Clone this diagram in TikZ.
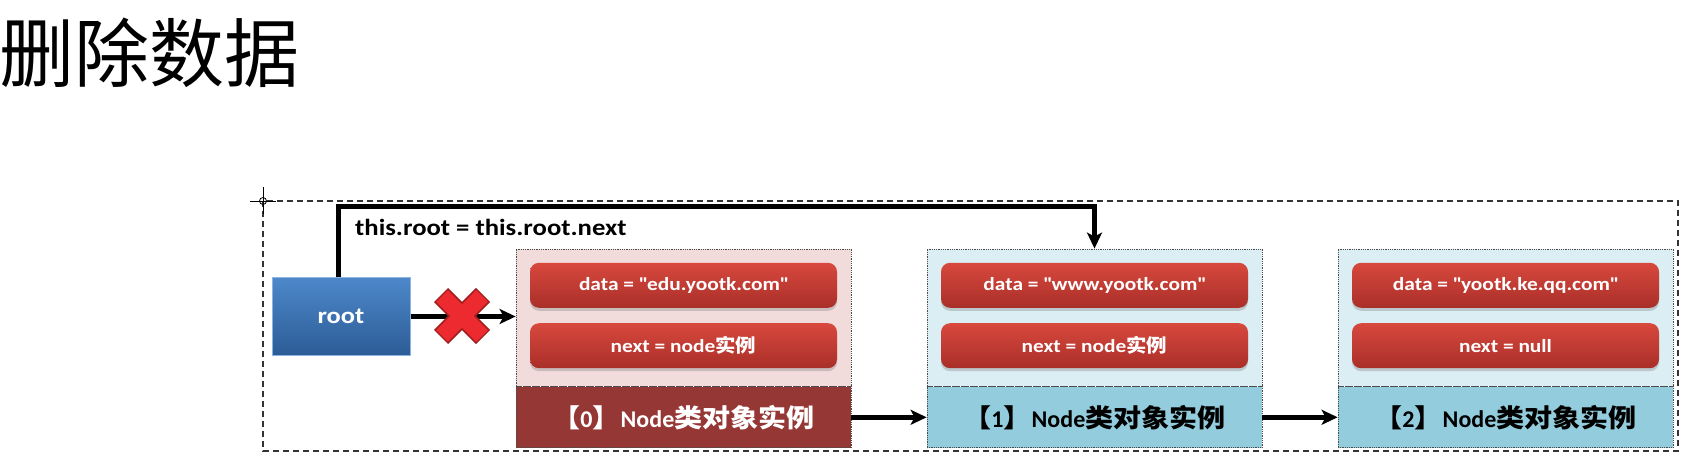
\documentclass[tikz,border=0pt]{standalone}
\usepackage{fontspec}
\setmainfont{Carlito}[FakeStretch=1.15]
\newfontfamily\latplain{Carlito}
\newfontfamily\cjk{Noto Sans CJK SC}[FakeStretch=1.1]
\newfontfamily\titlefont{Noto Sans CJK SC}
\usetikzlibrary{positioning,arrows.meta,shadows}

\definecolor{rootTop}{HTML}{4D88CA}
\definecolor{rootBot}{HTML}{2C5C96}
\definecolor{pillTop}{HTML}{D8483D}
\definecolor{pillBot}{HTML}{A92F29}
\definecolor{pinkBg}{HTML}{F2DCDB}
\definecolor{darkRed}{HTML}{953735}
\definecolor{iceBg}{HTML}{DBEEF4}
\definecolor{aquaBg}{HTML}{93CDDD}
\definecolor{crossRed}{HTML}{EC2A30}
\definecolor{crossEdge}{HTML}{A31E1E}

\newcommand{\zh}[1]{{\cjk #1}}
\newcommand{\dq}{\textquotedbl}
% caption of one object box
\newcommand{\objcap}[1]{{\cjk 【}{\latplain\fontsize{24}{28}\selectfont #1}{\cjk 】}%
	{\latplain\fontsize{24}{28}\selectfont Node}{\cjk 类对象实例}}

\begin{document}
\begin{tikzpicture}[
	x=1pt,y=-1pt,
	rootbox/.style={
		top color=rootTop,
		bottom color=rootBot,
		draw={rgb,255:red,140;green,180;blue,225},
		line width=1pt,
		minimum width=138pt,
		minimum height=77pt,
		text=white,
		font=\bfseries\fontsize{23}{28}\selectfont
	},
	upper/.style={
		draw=black!70,
		densely dotted,
		line width=0.8pt,
		minimum width=335pt,
		minimum height=137pt,
		inner sep=0pt
	},
	lower/.style={
		draw=black!70,
		densely dotted,
		line width=0.8pt,
		minimum width=335pt,
		minimum height=61pt,
		inner sep=0pt,
		font=\bfseries\fontsize{25.5}{30}\selectfont
	},
	pill/.style={
		rounded corners=9pt,
		top color=pillTop,
		bottom color=pillBot,
		minimum width=307pt,
		minimum height=45pt,
		inner sep=0pt,
		text=white,
		font=\bfseries\fontsize{18.6}{22}\selectfont,
		drop shadow={shadow xshift=0pt,shadow yshift=-3pt,opacity=0.35}
	},
	link/.style={
		line width=5pt,
		-{Stealth[length=16pt,width=15pt,inset=4pt]}
	}
	]
	\useasboundingbox (0,0) rectangle (1700,470);

	% title
	\node[anchor=base west, inner sep=0pt, font=\titlefont\fontsize{75}{80}\selectfont] 
	(title) at (-1,82) {删除数据};

	% frame
	\draw[black!80, line width=1.1pt, dash pattern=on 6pt off 4pt] 
	(263,201) rectangle (1678,451);
	\draw[line width=0.8pt] (263,201) circle (3.5);
	\draw[line width=0.8pt] (250,201) -- (276,201);
	\draw[line width=0.8pt] (263,187) -- (263,214);

	% root
	\node[rootbox] at (341,316.5) (root) {root};

	% node 0
	\node[upper, fill=pinkBg] at (683.5,317.5) (n0top) {};
	\node[lower, fill=darkRed, text=white, below=0pt of n0top] (n0) {\objcap{0}};
	\node[pill, below=14pt of n0top.north] (d0) {data = \dq edu.yootk.com\dq};
	\node[pill, below=15pt of d0] (x0) {next = node\zh{实例}};

	% node 1
	\node[upper, fill=iceBg] at (1094.5,317.5) (n1top) {};
	\node[lower, fill=aquaBg, below=0pt of n1top] (n1) {\objcap{1}};
	\node[pill, below=14pt of n1top.north] (d1) {data = \dq www.yootk.com\dq};
	\node[pill, below=15pt of d1] (x1) {next = node\zh{实例}};

	% node 2
	\node[upper, fill=iceBg] at (1505.5,317.5) (n2top) {};
	\node[lower, fill=aquaBg, below=0pt of n2top] (n2) {\objcap{2}};
	\node[pill, below=14pt of n2top.north] (d2) {data = \dq yootk.ke.qq.com\dq};
	\node[pill, below=15pt of d2] (x2) {next = null};

	% links
	\coordinate (turn) at (338,207);
	\draw[link] (root.north -| turn) -- (turn) -| (n1top.north);
	\node[anchor=west, inner sep=0pt, font=\bfseries\fontsize{23.2}{28}\selectfont] 
	at (355,227) (lbl) {this.root = this.root.next};

	\draw[link] (root.east) -- (root.east -| n0top.west);
	\draw[link] (n0) -- (n1);
	\draw[link] (n1) -- (n2);

	% cut mark
	\coordinate (cut) at (462,316);
	\draw[crossEdge, line width=20pt] ([shift={(-21,-21)}]cut) -- ([shift={(21,21)}]cut);
	\draw[crossEdge, line width=20pt] ([shift={(-21,21)}]cut) -- ([shift={(21,-21)}]cut);
	\draw[crossRed, line width=16.5pt] ([shift={(-20,-20)}]cut) -- ([shift={(20,20)}]cut);
	\draw[crossRed, line width=16.5pt] ([shift={(-20,20)}]cut) -- ([shift={(20,-20)}]cut);

	\end{tikzpicture}
\end{document}
